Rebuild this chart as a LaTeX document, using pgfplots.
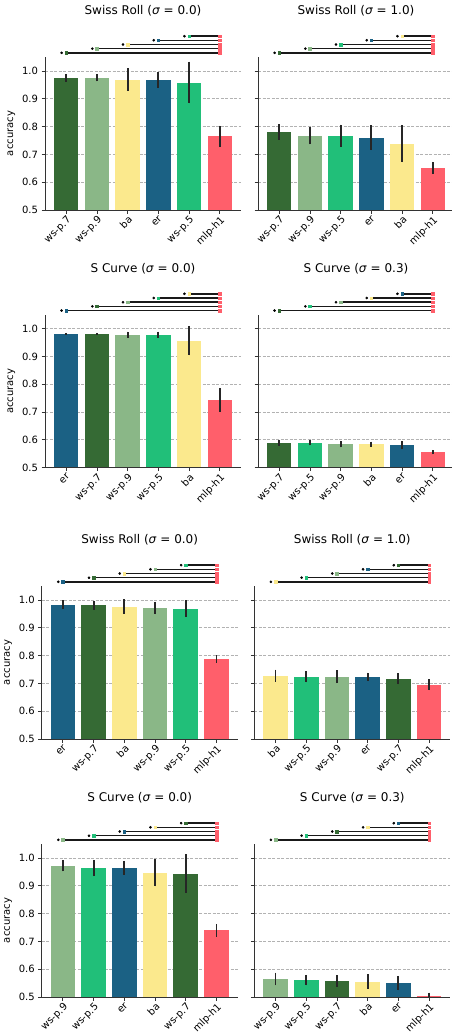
\documentclass[border=0pt]{standalone}
\usepackage{fontspec}
\setmainfont{DejaVu Sans}
\usepackage{pgfplots}
\pgfplotsset{compat=1.18}
\definecolor{c7}{HTML}{356A34}
\definecolor{c9}{HTML}{8AB787}
\definecolor{cba}{HTML}{FBE98D}
\definecolor{cer}{HTML}{1B6184}
\definecolor{c5}{HTML}{21BF79}
\definecolor{cr}{HTML}{FF5F6B}
\pgfplotsset{
  base/.style={scale only axis, width=196pt, height=153pt, xmin=-0.69, xmax=5.69,
    ymin=0.5, ymax=1.05, anchor=south west},
  panel/.style={base,
    axis x line*=bottom, axis y line*=left,
    axis line style={black!80, line width=0.9pt},
    xtick={0,1,2,3,4,5}, ytick={0.5,0.6,0.7,0.8,0.9,1.0},
    ymajorgrids, grid style={black!30, line width=0.8pt, dash pattern=on 3pt off 1.5pt},
    tick align=outside, major tick length=3.5pt, tick style={black!80, line width=0.8pt},
    ticklabel style={font=\fontsize{10}{12}\selectfont},
    xticklabel style={rotate=45, anchor=north east, inner sep=1pt},
    yticklabel style={/pgf/number format/fixed, /pgf/number format/fixed zerofill,
      /pgf/number format/precision=1},
    /pgf/number format/assume math mode=true,
    title style={font=\fontsize{12}{14}\selectfont, at={(0.5,1)}, anchor=center, yshift=40pt},
    label style={font=\fontsize{10}{12}\selectfont},
  },
  sigax/.style={base, hide axis, clip=false},
}
\newcommand\bb[4]{\addplot[ybar, bar width=0.8, bar shift=0pt, fill=#1, draw=none,
  error bars/.cd, y dir=both, y explicit, error mark=none,
  error bar style={line width=1.8pt, black!85}] coordinates {(#2,#3) +- (0,#4)};}
\newcommand\sigl[4]{%
  \addplot[black!90, line width=1.6pt, mark=none] coordinates {(#1,#3) (5,#3)};
  \addplot[only marks, mark=*, mark size=1.1pt, black] coordinates {(#2,#3)};
  \addplot[only marks, mark=square*, mark size=1.3pt, #4] coordinates {(#1,#3)};
  \addplot[only marks, mark=square*, mark size=1.25pt, cr] coordinates {(5,#3)};}
\newcommand\sigs[5]{%
  \draw[black!80, line width=0.9pt] (rel axis cs:0,0) -- (rel axis cs:1,0);
  \sigl{0}{-0.15}{1.065}{#1}\sigl{1}{0.85}{1.080}{#2}\sigl{2}{1.85}{1.095}{#3}%
  \sigl{3}{2.85}{1.110}{#4}\sigl{4}{3.85}{1.125}{#5}}
\begin{document}
\begin{tikzpicture}
% ---- Panel 1
\begin{axis}[panel, at={(45pt,-210pt)}, title={Swiss Roll (\textit{σ} = 0.0)}, ylabel={accuracy},
  xticklabels={ws-p.7,ws-p.9,ba,er,ws-p.5,mlp-h1}]
\bb{c7}{0}{0.975}{0.014}\bb{c9}{1}{0.975}{0.013}\bb{cba}{2}{0.969}{0.040}
\bb{cer}{3}{0.968}{0.028}\bb{c5}{4}{0.958}{0.075}\bb{cr}{5}{0.765}{0.038}
\end{axis}
\begin{axis}[sigax, at={(45pt,-210pt)}]
\sigs{c7}{c9}{cba}{cer}{c5}
\end{axis}
% ---- Panel 2
\begin{axis}[panel, at={(258pt,-210pt)}, title={Swiss Roll (\textit{σ} = 1.0)}, yticklabels={},
  xticklabels={ws-p.7,ws-p.9,ws-p.5,er,ba,mlp-h1}]
\bb{c7}{0}{0.781}{0.028}\bb{c9}{1}{0.767}{0.031}\bb{c5}{2}{0.767}{0.040}
\bb{cer}{3}{0.760}{0.045}\bb{cba}{4}{0.738}{0.066}\bb{cr}{5}{0.651}{0.022}
\end{axis}
\begin{axis}[sigax, at={(258pt,-210pt)}]
\sigs{c7}{c9}{c5}{cer}{cba}
\end{axis}
% ---- Panel 3
\begin{axis}[panel, at={(45pt,-467.7pt)}, title={S Curve (\textit{σ} = 0.0)}, ylabel={accuracy},
  xticklabels={er,ws-p.7,ws-p.9,ws-p.5,ba,mlp-h1}]
\bb{cer}{0}{0.982}{0.003}\bb{c7}{1}{0.982}{0.003}\bb{c9}{2}{0.978}{0.011}
\bb{c5}{3}{0.978}{0.011}\bb{cba}{4}{0.957}{0.053}\bb{cr}{5}{0.744}{0.043}
\end{axis}
\begin{axis}[sigax, at={(45pt,-467.7pt)}]
\sigs{cer}{c7}{c9}{c5}{cba}
\end{axis}
% ---- Panel 4
\begin{axis}[panel, at={(258pt,-467.7pt)}, title={S Curve (\textit{σ} = 0.3)}, yticklabels={},
  xticklabels={ws-p.7,ws-p.5,ws-p.9,ba,er,mlp-h1}]
\bb{c7}{0}{0.589}{0.011}\bb{c5}{1}{0.589}{0.009}\bb{c9}{2}{0.585}{0.012}
\bb{cba}{3}{0.585}{0.009}\bb{cer}{4}{0.582}{0.013}\bb{cr}{5}{0.556}{0.008}
\end{axis}
\begin{axis}[sigax, at={(258pt,-467.7pt)}]
\sigs{c7}{c5}{c9}{cba}{cer}
\end{axis}
% ---- Panel 5
\begin{axis}[panel, at={(41.7pt,-739pt)}, title={Swiss Roll (\textit{σ} = 0.0)}, ylabel={accuracy},
  xticklabels={er,ws-p.7,ba,ws-p.9,ws-p.5,mlp-h1}]
\bb{cer}{0}{0.983}{0.016}\bb{c7}{1}{0.980}{0.015}\bb{cba}{2}{0.976}{0.026}
\bb{c9}{3}{0.971}{0.022}\bb{c5}{4}{0.969}{0.029}\bb{cr}{5}{0.788}{0.013}
\end{axis}
\begin{axis}[sigax, at={(41.7pt,-739pt)}]
\sigs{cer}{c7}{cba}{c9}{c5}
\end{axis}
% ---- Panel 6
\begin{axis}[panel, at={(254.3pt,-739pt)}, title={Swiss Roll (\textit{σ} = 1.0)}, yticklabels={},
  xticklabels={ba,ws-p.5,ws-p.9,er,ws-p.7,mlp-h1}]
\bb{cba}{0}{0.727}{0.022}\bb{c5}{1}{0.724}{0.020}\bb{c9}{2}{0.724}{0.023}
\bb{cer}{3}{0.724}{0.015}\bb{c7}{4}{0.716}{0.020}\bb{cr}{5}{0.695}{0.019}
\end{axis}
\begin{axis}[sigax, at={(254.3pt,-739pt)}]
\sigs{cba}{c5}{c9}{cer}{c7}
\end{axis}
% ---- Panel 7
\begin{axis}[panel, at={(41.7pt,-997pt)}, title={S Curve (\textit{σ} = 0.0)}, ylabel={accuracy},
  xticklabels={ws-p.9,ws-p.5,er,ba,ws-p.7,mlp-h1}]
\bb{c9}{0}{0.972}{0.020}\bb{c5}{1}{0.964}{0.029}\bb{cer}{2}{0.964}{0.025}
\bb{cba}{3}{0.947}{0.049}\bb{c7}{4}{0.944}{0.069}\bb{cr}{5}{0.740}{0.023}
\end{axis}
\begin{axis}[sigax, at={(41.7pt,-997pt)}]
\sigs{c9}{c5}{cer}{cba}{c7}
\end{axis}
% ---- Panel 8
\begin{axis}[panel, at={(254.3pt,-997pt)}, title={S Curve (\textit{σ} = 0.3)}, yticklabels={},
  xticklabels={ws-p.9,ws-p.5,ws-p.7,ba,er,mlp-h1}]
\bb{c9}{0}{0.565}{0.023}\bb{c5}{1}{0.561}{0.019}\bb{c7}{2}{0.558}{0.022}
\bb{cba}{3}{0.555}{0.026}\bb{cer}{4}{0.550}{0.026}\bb{cr}{5}{0.502}{0.014}
\end{axis}
\begin{axis}[sigax, at={(254.3pt,-997pt)}]
\sigs{c9}{c5}{c7}{cba}{cer}
\end{axis}
\pgfresetboundingbox
\path[use as bounding box] (0pt,0pt) rectangle (452pt,-1033pt);
\end{tikzpicture}
\end{document}
